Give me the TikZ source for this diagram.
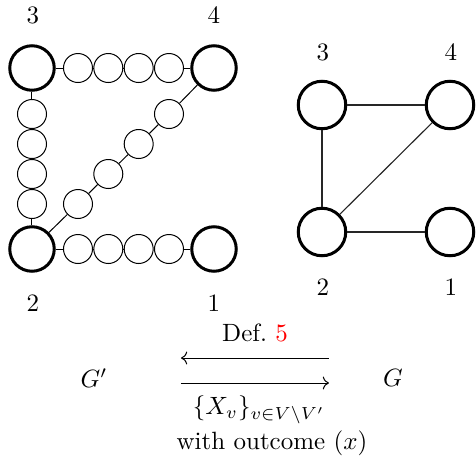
\documentclass[tikz,border=0pt]{standalone}
\usetikzlibrary{arrows.meta}
\begin{document}
\begin{tikzpicture}[x=0.4pt,y=0.4pt,
  bigv/.style={circle,draw,line width=1.2pt,minimum size=17.8pt,inner sep=0pt},
  bigr/.style={circle,draw,line width=1.2pt,minimum size=19pt,inner sep=0pt},
  smallv/.style={circle,draw,line width=0.4pt,minimum size=11.6pt,inner sep=0pt},
  edge/.style={draw,line width=0.4pt},
  redge/.style={draw,line width=0.45pt,black!85},
  lbl/.style={inner sep=0pt}]
\useasboundingbox (0,0) rectangle (476,463);
% left graph
\node[bigv] (L3) at (32,395) {};
\node[bigv] (L4) at (214,395) {};
\node[bigv] (L2) at (32,214) {};
\node[bigv] (L1) at (214,214) {};
\node[lbl] (l3) at (33,448) {$3$};
\node[lbl] (l4) at (214,448) {$4$};
\node[lbl] (l2) at (33,160) {$2$};
\node[lbl] (l1) at (214,160) {$1$};
% top row
\node[smallv] (t1) at (78,395) {};
\node[smallv] (t2) at (108.3,395) {};
\node[smallv] (t3) at (138.7,395) {};
\node[smallv] (t4) at (169,395) {};
% bottom row
\node[smallv] (b1) at (78,214) {};
\node[smallv] (b2) at (108.3,214) {};
\node[smallv] (b3) at (138.7,214) {};
\node[smallv] (b4) at (169,214) {};
% vertical
\node[smallv] (v1) at (32,349) {};
\node[smallv] (v2) at (32,319) {};
\node[smallv] (v3) at (32,289) {};
\node[smallv] (v4) at (32,259) {};
% diagonal
\node[smallv] (d1) at (78,259) {};
\node[smallv] (d2) at (108.3,289) {};
\node[smallv] (d3) at (138.7,319) {};
\node[smallv] (d4) at (169,349) {};
\draw[edge] (L3) -- (t1) -- (t2) -- (t3) -- (t4) -- (L4);
\draw[edge] (L2) -- (b1) -- (b2) -- (b3) -- (b4) -- (L1);
\draw[edge] (L3) -- (v1) -- (v2) -- (v3) -- (v4) -- (L2);
\draw[edge] (L2) -- (d1) -- (d2) -- (d3) -- (d4) -- (L4);
% right graph
\node[bigr] (R3) at (322,358) {};
\node[bigr] (R4) at (450,358) {};
\node[bigr] (R2) at (322,231) {};
\node[bigr] (R1) at (450,231) {};
\node[lbl] (r3) at (323,411) {$3$};
\node[lbl] (r4) at (451,411) {$4$};
\node[lbl] (r2) at (323,176) {$2$};
\node[lbl] (r1) at (451,176) {$1$};
\draw[redge] (R3) -- (R4);
\draw[redge] (R3) -- (R2);
\draw[redge] (R2) -- (R1);
\draw[redge] (R2) -- (R4);
% bottom part
\node[lbl] (Gp) at (94,85) {$G'$};
\node[lbl] (G) at (393,85) {$G$};
\coordinate (a1) at (329,105);
\coordinate (a2) at (181,105);
\coordinate (b1c) at (181,80);
\coordinate (b2c) at (329,80);
\draw[->,line width=0.4pt] (a1) -- (a2);
\draw[->,line width=0.4pt] (b1c) -- (b2c);
\node[lbl] (def) at (255,130) {Def.~\textcolor{red}{5}};
\node[lbl] (xv) at (259,53) {$\{X_v\}_{v\in V\setminus V'}$};
\node[lbl] (wo) at (272,20) {with outcome $(x)$};
\end{tikzpicture}
\end{document}
